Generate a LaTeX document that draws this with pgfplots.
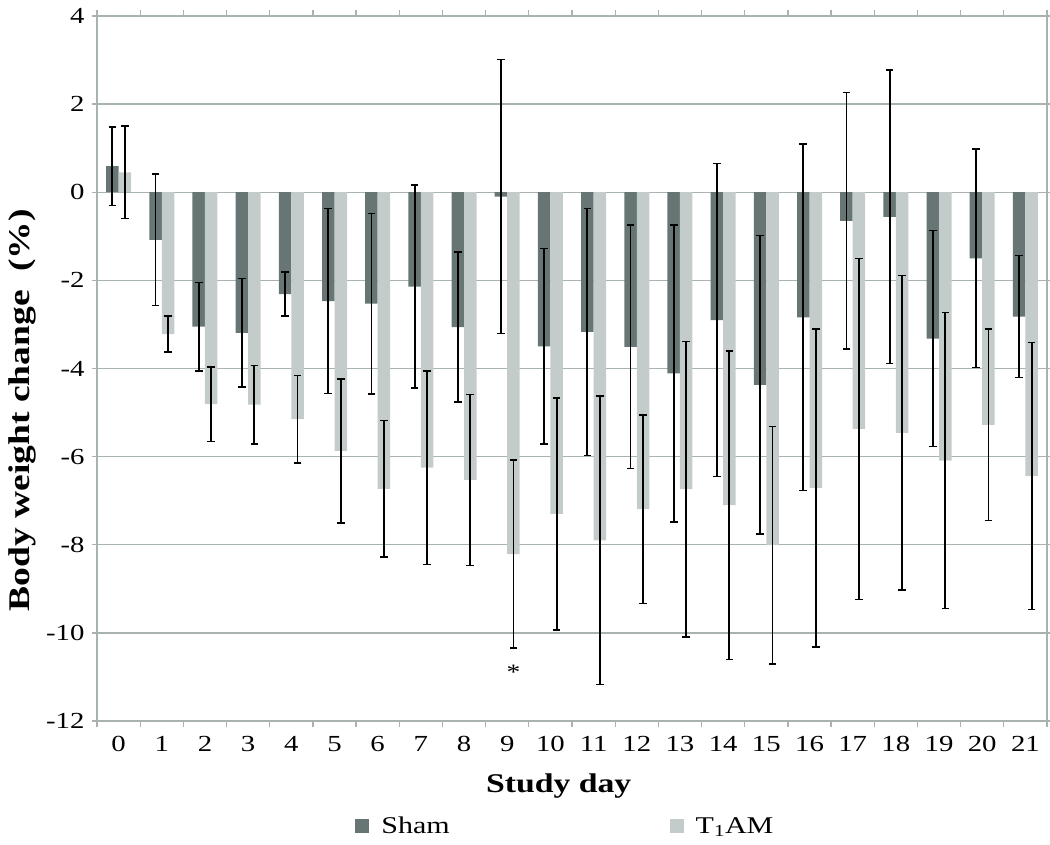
\documentclass[border=0pt]{standalone}
\usepackage{fontspec}
\setmainfont{Liberation Serif}[FakeStretch=1.25]
\usepackage{pgfplots}
\usepackage{pgfplotstable}
\pgfplotsset{compat=1.18}
\definecolor{shamc}{HTML}{677675}
\definecolor{tamc}{HTML}{C4CCCB}
\definecolor{gridc}{HTML}{A8B3B0}
\pgfplotstableread{
day sham se t1am te
0 0.59 0.89 0.45 1.05
1 -1.08 1.49 -3.22 0.41
2 -3.05 1.00 -4.81 0.85
3 -3.19 1.23 -4.82 0.89
4 -2.31 0.50 -5.15 0.99
5 -2.47 2.10 -5.87 1.63
6 -2.53 2.05 -6.73 1.55
7 -2.14 2.30 -6.25 2.20
8 -3.06 1.70 -6.53 1.94
9 -0.10 3.11 -8.21 2.13
10 -3.50 2.22 -7.30 2.63
11 -3.17 2.80 -7.90 3.27
12 -3.51 2.76 -7.19 2.14
13 -4.11 3.37 -6.74 3.35
14 -2.90 3.55 -7.10 3.50
15 -4.37 3.39 -8.01 2.69
16 -2.84 3.93 -6.71 3.61
17 -0.65 2.91 -5.37 3.87
18 -0.56 3.33 -5.46 3.57
19 -3.32 2.45 -6.09 3.36
20 -1.50 2.48 -5.28 2.17
21 -2.82 1.38 -6.44 3.03
}\datatable
\begin{document}
\begin{tikzpicture}
\useasboundingbox (0,0) rectangle (1050pt,844pt);
\begin{axis}[
  at={(97pt,123pt)}, anchor=south west,
  scale only axis, width=950pt, height=705pt,
  xmin=-0.5, xmax=21.5, ymin=-12, ymax=4,
  ybar=0pt, bar width=12.5pt,
  xtick={0,...,21},
  minor xtick={-0.5,0.5,...,21.5},
  ytick={-12,-10,...,4},
  tick align=outside,
  major tick length=5pt, minor tick length=6pt,
  major x tick style={draw=none},
  minor x tick style={draw=gridc, line width=1.3pt},
  ytick style={draw=gridc, line width=1.3pt},
  axis line style={draw=gridc, line width=1.3pt},
  ymajorgrids, grid style={draw=gridc, line width=1.3pt},
  /pgf/number format/assume math mode=true,
  tick label style={font=\fontsize{23}{27}\selectfont, text=black},
  xticklabel style={yshift=-7pt},
  yticklabel style={xshift=-4pt},
  ylabel={\textbf{Body weight change\ \ (\%)}},
  ylabel style={at={(axis description cs:-0.079,0.441)}, anchor=center, font=\fontsize{30}{34}\selectfont},
  xlabel={\textbf{Study day}},
  xlabel style={at={(axis description cs:0.486,-0.092)}, anchor=center, font=\fontsize{27}{31}\selectfont},
  legend columns=2,
  legend style={at={(axis description cs:0.493,-0.149)}, anchor=center, draw=none, fill=none,
    font=\fontsize{24}{28}\selectfont,
    /tikz/every even column/.append style={column sep=218pt}},
  legend image code/.code={\fill[#1] (0pt,-7pt) rectangle (14pt,7pt);},
  error bars/error bar style={line width=1.8pt, black},
  error bars/error mark options={rotate=90, line width=1.6pt, black, mark size=3.8pt},
]
\addplot[fill=shamc, draw=none, error bars/.cd, y dir=both, y explicit]
  table[x=day, y=sham, y error=se] {\datatable};
\addplot[fill=tamc, draw=none, error bars/.cd, y dir=both, y explicit]
  table[x=day, y=t1am, y error=te] {\datatable};
\legend{\hspace{10pt}Sham, \hspace{10pt}T\textsubscript{1}AM}
\node[font=\fontsize{22}{24}\selectfont] at (axis cs:9.145,-10.9) {*};
\end{axis}
\end{tikzpicture}
\end{document}
